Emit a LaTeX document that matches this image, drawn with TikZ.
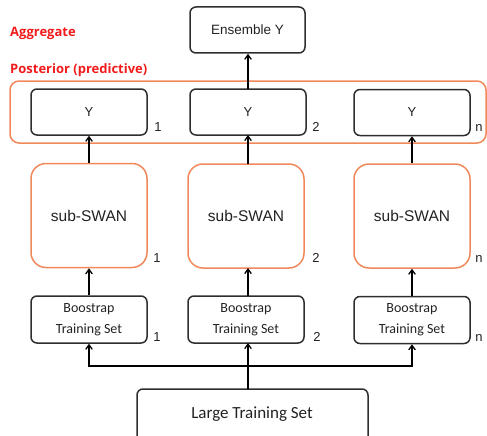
\documentclass[tikz,border=0pt]{standalone}
\usepackage{fontspec}
\setmainfont{Liberation Sans}
\newfontfamily\calfont{Carlito}
\newfontfamily\headfont{Open Sans}
\usetikzlibrary{arrows.meta,calc}

\definecolor{edgegray}{HTML}{2E2E2E}
\definecolor{txtgray}{HTML}{222222}
\definecolor{swanorange}{HTML}{F0885A}
\definecolor{headred}{HTML}{F21B1B}

\tikzset{
  box/.style={draw=edgegray, line width=1.5pt, rounded corners=6pt, text=txtgray,
    minimum width=116pt, inner sep=0pt, align=center},
  ybox/.style={box, minimum height=46pt, font=\fontsize{13}{15}\selectfont},
  swan/.style={box, draw=swanorange, rounded corners=15pt, minimum height=104pt,
    font=\fontsize{15.5}{18}\selectfont},
  bootbox/.style={box, minimum height=47pt, font=\calfont\fontsize{14}{21}\selectfont},
  idx/.style={text=txtgray, font=\fontsize{13}{15}\selectfont, inner sep=0pt},
  head/.style={text=headred, font=\headfont\bfseries\fontsize{13}{15}\selectfont,
    anchor=west, inner sep=0pt},
  flow/.style={draw=black, line width=1.4pt, -{Straight Barb[length=4.5pt,width=6.5pt,line width=1.3pt]}},
}

\begin{document}
\begin{tikzpicture}[x=1pt, y=-1pt]
  \useasboundingbox (0,0) rectangle (487,436);
  \begin{scope}
    \clip (0,0) rectangle (487,436);

    % headings
    \node[head] (hagg) at (10,33) {Aggregate};
    \node[head] (hpost) at (10,70) {Posterior (predictive)};

    % ensemble output
    \node[ybox, minimum width=115pt, font=\fontsize{13.5}{16}\selectfont] (ens) at (247.5,30) {Ensemble Y};

    % posterior group frame
    \node[draw=swanorange, line width=1.5pt, rounded corners=9pt, minimum width=476pt,
      minimum height=62pt, inner sep=0pt] (post) at (248,112) {};

    % predictive outputs
    \node[ybox] (y1) at (89,112) {Y};
    \node[ybox] (y2) at (248,112) {Y};
    \node[ybox] (y3) at (412,112.5) {Y};

    % sub-networks
    \node[swan] (s1) at (89,215.5) {sub-SWAN};
    \node[swan] (s2) at (246,216) {sub-SWAN};
    \node[swan] (s3) at (412,216) {sub-SWAN};

    % bootstrap training sets
    \node[bootbox] (b1) at (89,319.5) {Boostrap\\Training Set};
    \node[bootbox] (b2) at (246,319.5) {Boostrap\\Training Set};
    \node[bootbox] (b3) at (412,320) {Boostrap\\Training Set};

    % full training set
    \node[box, minimum width=231pt, minimum height=54pt] (large) at (252.5,416) {};
    \node[text=txtgray, font=\calfont\fontsize{17}{20}\selectfont, inner sep=0pt] (largetxt) at (252,414) {Large Training Set};

    % member indices
    \node[idx] (n1) at (158,127) {1};
    \node[idx] (n2) at (316,127) {2};
    \node[idx] (n3) at (479,128.5) {n};
    \node[idx] (m1) at (157,258) {1};
    \node[idx] (m2) at (316,258) {2};
    \node[idx] (m3) at (479,259) {n};
    \node[idx] (k1) at (157,337) {1};
    \node[idx] (k2) at (317,337) {2};
    \node[idx] (k3) at (479,338) {n};

    % connectors
    \coordinate (ytop) at (248,89);
    \draw[flow] (ytop) -- (ytop |- ens.south);
    \draw[flow] (s1.north) -- (y1.south);
    \draw[flow] (248,164) -- (248,135);
    \draw[flow] (s3.north) -- (y3.south);
    \draw[flow] (b1.north) -- (s1.south);
    \draw[flow] (248,296) -- (248,268);
    \draw[flow] (b3.north) -- (s3.south);

    \coordinate (split) at (248,366);
    \coordinate (lt) at (248,389);
    \draw[flow] (lt) -- (248,343);
    \draw[flow] (split) -| (b1.south);
    \draw[flow] (split) -| (b3.south);
  \end{scope}
\end{tikzpicture}
\end{document}
